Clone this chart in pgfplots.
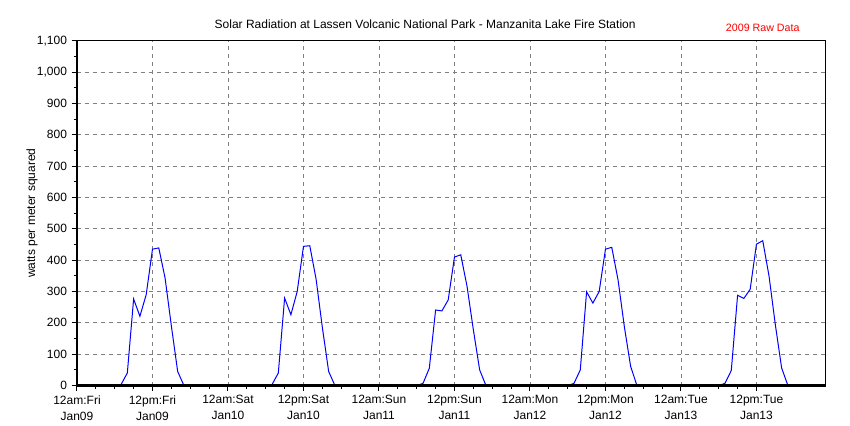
\documentclass[border=0pt]{standalone}
\usepackage{fontspec}
\setmainfont{Liberation Sans}
\usepackage{pgfplots}
\pgfplotsset{compat=1.18}

% hourly solar radiation, hours since 12am Fri Jan09
\pgfplotstableread{
h   w
0   0
6   0
7   3
8   40
9   276
10  221
11  290
12  435
13  439
14  343
15  190
16  45
17  0
30  0
31  3
32  40
33  279
34  226
35  300
36  444
37  446
38  340
39  185
40  45
41  0
54  0
55  7
56  55
57  241
58  238
59  273
60  410
61  417
62  316
63  178
64  50
65  0
78  0
79  7
80  50
81  299
82  263
83  300
84  435
85  441
86  337
87  188
88  61
89  0
102 0
103 7
104 48
105 288
106 278
107 307
108 451
109 462
110 349
111 194
112 56
113 0
119 0
}\solar

\begin{document}
\begin{tikzpicture}[x=1pt,y=1pt]
\path[use as bounding box] (-57.75,-29.6) rectangle (579.75,289.15);
\begin{axis}[
    name=ax,
    at={(0,0)}, anchor=south west,
    scale only axis,
    width=561.5pt, height=258.6pt,
    xmin=0, xmax=119,
    ymin=0, ymax=1100,
    xtick={0,12,...,108},
    xticklabels={{12am:Fri\\Jan09},{12pm:Fri\\Jan09},{12am:Sat\\Jan10},{12pm:Sat\\Jan10},
                 {12am:Sun\\Jan11},{12pm:Sun\\Jan11},{12am:Mon\\Jan12},{12pm:Mon\\Jan12},
                 {12am:Tue\\Jan13},{12pm:Tue\\Jan13}},
    ytick={0,100,...,1100},
    minor x tick num=3,
    minor y tick num=1,
    grid=major,
    major grid style={draw=gray, dash pattern=on 3pt off 3pt, line width=0.6pt},
    tick align=outside,
    tick pos=left,
    major tick length=4pt,
    minor tick length=2.5pt,
    tick style={black, line width=0.75pt},
    axis line style={line width=0.9pt},
    scaled y ticks=false,
    /pgf/number format/1000 sep={,},
    /pgf/number format/assume math mode=true,
    ticklabel style={font=\fontsize{9}{12}\selectfont},
    xticklabel style={align=center},
    ylabel={watts per meter squared},
    ylabel style={at={(axis description cs:-0.060,0.5)}, anchor=center, font=\fontsize{9}{11}\selectfont},
]
\addplot[blue, line width=0.75pt] table[x=h, y=w] {\solar};
\end{axis}
\draw[line width=1.8pt] (ax.south west) -- (ax.south east);
\node[font=\fontsize{9}{11}\selectfont] at (261.1,270.9)
    {Solar Radiation at Lassen Volcanic National Park - Manzanita Lake Fire Station};
\node[font=\fontsize{8}{10}\selectfont, text=red] at (514.3,268.1)
    {2009 Raw Data};
\end{tikzpicture}
\end{document}
